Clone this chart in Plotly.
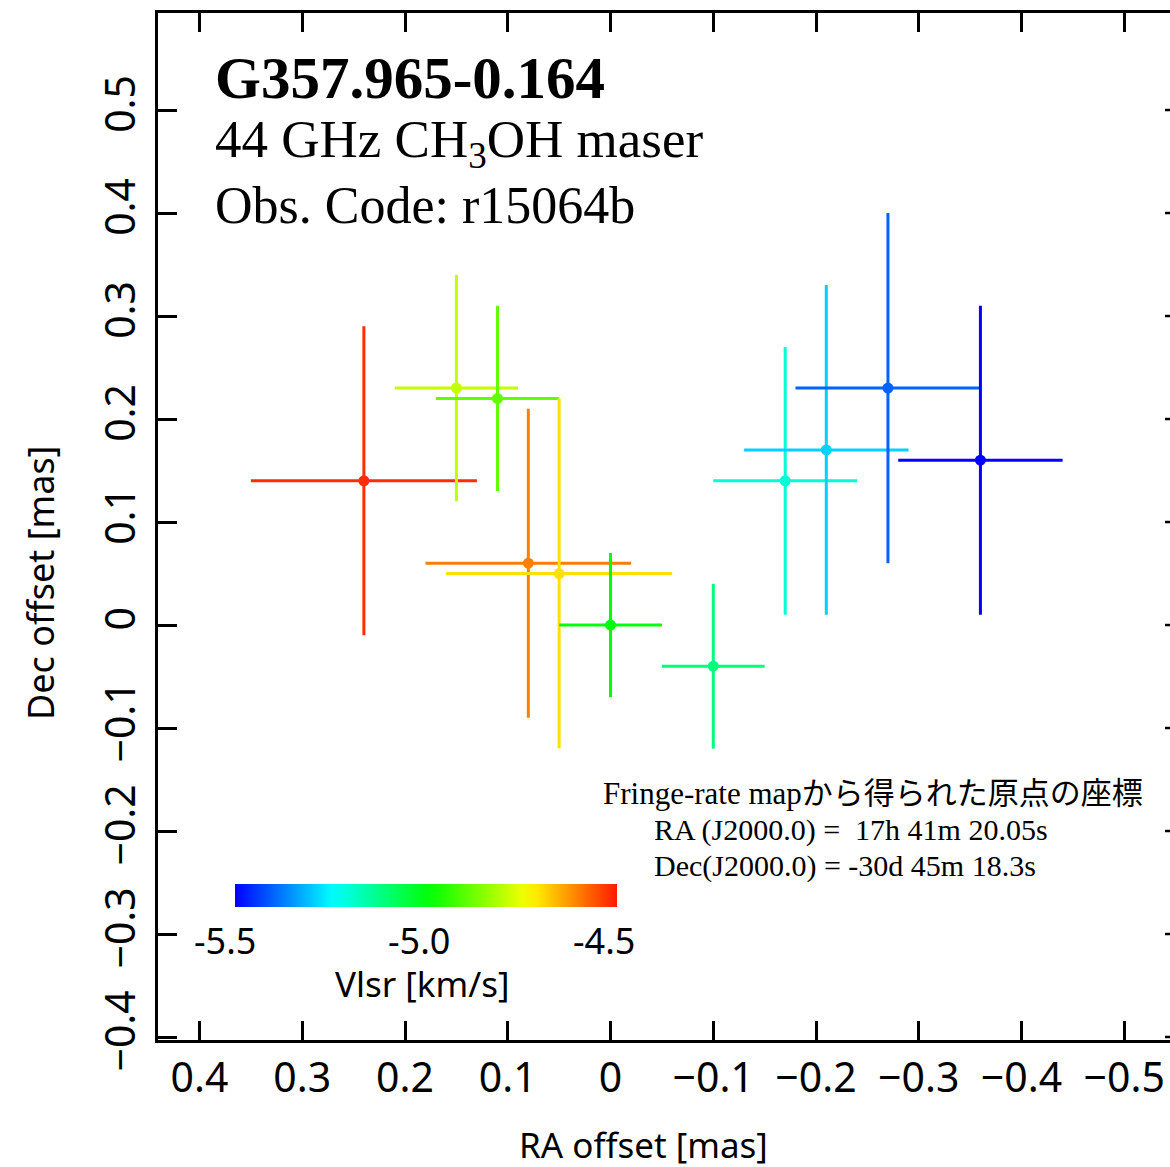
import colorsys
import plotly.graph_objects as go
from plotly.colors import sample_colorscale

# Maser spot positions (offsets from the phase-reference origin, mas)
ra_offset = [0.24, 0.15, 0.11, 0.08, 0.05, 0.00, -0.10, -0.17, -0.21, -0.27, -0.36]
dec_offset = [0.14, 0.23, 0.22, 0.06, 0.05, 0.00, -0.04, 0.14, 0.17, 0.23, 0.16]
ra_error = [0.11, 0.06, 0.06, 0.10, 0.11, 0.05, 0.05, 0.07, 0.08, 0.09, 0.08]
dec_error = [0.15, 0.11, 0.09, 0.15, 0.17, 0.07, 0.08, 0.13, 0.16, 0.17, 0.15]
vlsr = [-4.52, -4.79, -4.89, -4.60, -4.70, -5.00, -5.11, -5.20, -5.29, -5.40, -5.50]

x_ticks = [0.4, 0.3, 0.2, 0.1, 0.0, -0.1, -0.2, -0.3, -0.4, -0.5]
y_ticks = [-0.4, -0.3, -0.2, -0.1, 0.0, 0.1, 0.2, 0.3, 0.4, 0.5]
cbar_labels = ["-5.5", "-5.0", "-4.5"]
vmin, vmax = -5.5, -4.5

W, H = 1170, 1167
L, R, T, B = 158, 0, 13, 127
PW, PH = W - L - R, H - T - B


def px(x):
    return (x - L) / PW


def py(y):
    return (H - B - y) / PH


# rainbow scale: hue 240 (blue) down to ~6 (red)
n = 24
rainbow = []
for i in range(n + 1):
    f = i / n
    h = (240 - 234 * f) / 360.0
    r, g, b = colorsys.hsv_to_rgb(h, 1, 1)
    rainbow.append([f, "rgb(%d,%d,%d)" % (round(r * 255), round(g * 255), round(b * 255))])

fig = go.Figure()
for xv, yv, ex, ey, v in zip(ra_offset, dec_offset, ra_error, dec_error, vlsr):
    c = sample_colorscale(rainbow, [(v - vmin) / (vmax - vmin)])[0]
    fig.add_trace(go.Scatter(
        x=[xv], y=[yv], mode="markers",
        marker=dict(size=11, color=[v], coloraxis="coloraxis", line=dict(width=0)),
        error_x=dict(type="constant", value=ex, color=c, thickness=3, width=0),
        error_y=dict(type="constant", value=ey, color=c, thickness=3, width=0),
        showlegend=False, hoverinfo="skip",
    ))

tick_font = dict(family="Noto Sans", size=41, color="black")

fig.update_layout(
    width=W, height=H,
    margin=dict(l=L, r=R, t=T, b=B, pad=0),
    paper_bgcolor="white", plot_bgcolor="white",
    coloraxis=dict(
        colorscale=rainbow, cmin=vmin, cmax=vmax,
        colorbar=dict(
            orientation="h", lenmode="pixels", len=382, thickness=23,
            x=px(235), xanchor="left", y=py(884), yanchor="top",
            xpad=0, ypad=0, outlinewidth=0,
            ticks="", showticklabels=False,
        ),
    ),
    xaxis=dict(
        range=[0.4404, -0.5445], tickvals=x_ticks,
        ticks="inside", ticklen=19, tickwidth=2.5, tickcolor="black",
        showline=True, linecolor="black", linewidth=2.5, mirror="ticks",
        showgrid=False, zeroline=False, tickfont=tick_font,
        ticklabelstandoff=0,
    ),
    yaxis=dict(
        range=[-0.4029, 0.5942], tickvals=y_ticks, tickangle=-90,
        ticks="inside", ticklen=19, tickwidth=2.5, tickcolor="black",
        showline=True, linecolor="black", linewidth=2.5, mirror=False,
        showgrid=False, zeroline=False, tickfont=tick_font,
        ticklabelstandoff=4,
    ),
)

# inward tick stubs along the right edge
for yt in y_ticks:
    fig.add_shape(type="line", xref="paper", yref="y",
                  x0=1 - 5 / PW, x1=1, y0=yt, y1=yt,
                  line=dict(color="black", width=2.5))

serif = "Liberation Serif, Times New Roman, serif"
annotations = [
    dict(text="<b>G357.965-0.164</b>", x=px(213), y=py(78),
         font=dict(family=serif, size=59, color="black")),
    dict(text="44 GHz CH<sub>3</sub>OH maser", x=px(213), y=py(143),
         font=dict(family=serif, size=53, color="black")),
    dict(text="Obs. Code: r15064b", x=px(213), y=py(205),
         font=dict(family=serif, size=52, color="black")),
    dict(text="Fringe-rate mapから得られた原点の座標", x=px(601), y=py(793),
         font=dict(family=serif + ", Noto Sans CJK JP", size=31, color="black")),
    dict(text="RA (J2000.0) =  17h 41m 20.05s", x=px(652), y=py(830),
         font=dict(family=serif, size=30, color="black")),
    dict(text="Dec(J2000.0) = -30d 45m 18.3s", x=px(652), y=py(866),
         font=dict(family=serif, size=30, color="black")),
]
for a in annotations:
    fig.add_annotation(xref="paper", yref="paper", xanchor="left", yanchor="middle",
                       showarrow=False, **a)

# colour bar labels
for lab, cx in zip(cbar_labels, [225, 419, 604]):
    fig.add_annotation(text=lab, xref="paper", yref="paper", x=px(cx), y=py(940),
                       xanchor="center", yanchor="middle", showarrow=False,
                       font=dict(family="Noto Sans", size=36, color="black"))
fig.add_annotation(text="Vlsr [km/s]", xref="paper", yref="paper", x=px(422), y=py(983),
                   xanchor="center", yanchor="middle", showarrow=False,
                   font=dict(family="Noto Sans", size=35, color="black"))

# axis titles
fig.add_annotation(text="RA offset [mas]", xref="paper", yref="paper",
                   x=px(643), y=py(1144), xanchor="center", yanchor="middle",
                   showarrow=False, font=dict(family="Noto Sans", size=35, color="black"))
fig.add_annotation(text="Dec offset [mas]", xref="paper", yref="paper",
                   x=px(40), y=py(583), xanchor="center", yanchor="middle",
                   textangle=-90, showarrow=False,
                   font=dict(family="Noto Sans", size=36, color="black"))

fig.write_html("out.html")
